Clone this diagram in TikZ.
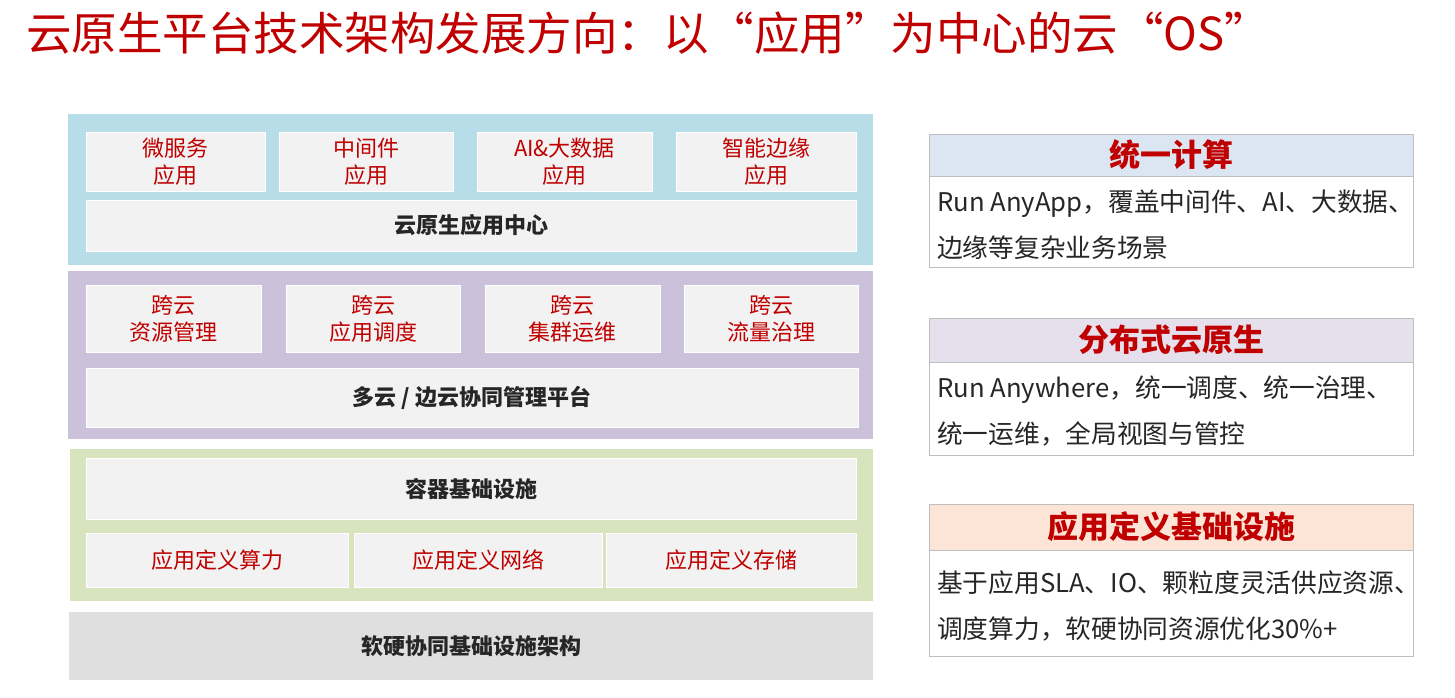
\documentclass[tikz,border=0pt]{standalone}
\usepackage{fontspec}
\setmainfont{Noto Sans CJK SC}
\usepackage{xcolor}
\definecolor{cred}{HTML}{C00000}
\definecolor{lblue}{HTML}{B7DDE8}
\definecolor{lpurple}{HTML}{CCC1DA}
\definecolor{lgreen}{HTML}{D7E4BD}
\definecolor{lgray}{HTML}{DFDFDF}
\definecolor{inner}{HTML}{F2F2F2}
\definecolor{hblue}{HTML}{DCE6F2}
\definecolor{hpurple}{HTML}{E5E0EC}
\definecolor{hpeach}{HTML}{FCE4D6}
\definecolor{pborder}{HTML}{BFBFBF}
\definecolor{txt}{HTML}{262626}
\tikzset{
  layer/.style={rectangle, inner sep=0pt, draw=none},
  ibox/.style={rectangle, inner sep=0pt, fill=inner, draw=white, line width=0.8pt, align=center},
  redtext/.style={text=cred, font=\fontsize{22}{27}\selectfont},
  boldtext/.style={text=txt, font=\fontsize{22}{27}\selectfont\bfseries},
  phead/.style={rectangle, inner sep=0pt, draw=pborder, line width=1pt, text=cred, font=\fontsize{31}{36}\selectfont\bfseries},
  pbody/.style={rectangle, inner sep=0pt, draw=pborder, line width=1pt, fill=white},
  ptext/.style={anchor=west, inner sep=0pt, align=left, text=txt, font=\fontsize{25.7}{46}\selectfont},
}
\begin{document}
\begin{tikzpicture}[x=1pt,y=-1pt]
\useasboundingbox (0,0) rectangle (1455,698);
% title
\node[anchor=west, inner sep=0pt, text=cred, font=\fontsize{45.5}{50}\selectfont] (title) at (26,33) {云原生平台技术架构发展方向：以“应用”为中心的云“OS”};

% layer 1
\node[layer, fill=lblue, minimum width=805pt, minimum height=151pt] (L1) at (470.5,189.5) {};
\node[ibox, redtext, minimum width=179pt, minimum height=59pt] (b11) at (175.5,161.5) {微服务\\应用};
\node[ibox, redtext, minimum width=174pt, minimum height=59pt] (b12) at (366,161.5) {中间件\\应用};
\node[ibox, redtext, minimum width=175pt, minimum height=59pt] (b13) at (564.5,161.5) {AI\&大数据\\应用};
\node[ibox, redtext, minimum width=180pt, minimum height=59pt] (b14) at (766,161.5) {智能边缘\\应用};
\node[ibox, boldtext, minimum width=770pt, minimum height=51pt] (c1) at (471,225.5) {云原生应用中心};

% layer 2
\node[layer, fill=lpurple, minimum width=805pt, minimum height=168pt] (L2) at (470.5,355) {};
\node[ibox, redtext, minimum width=175pt, minimum height=67pt] (b21) at (173.5,318.5) {跨云\\资源管理};
\node[ibox, redtext, minimum width=174pt, minimum height=67pt] (b22) at (373,318.5) {跨云\\应用调度};
\node[ibox, redtext, minimum width=175pt, minimum height=67pt] (b23) at (572.5,318.5) {跨云\\集群运维};
\node[ibox, redtext, minimum width=174pt, minimum height=67pt] (b24) at (771,318.5) {跨云\\流量治理};
\node[ibox, boldtext, minimum width=772pt, minimum height=59pt] (c2) at (472,397.5) {多云 / 边云协同管理平台};

% layer 3
\node[layer, fill=lgreen, minimum width=803pt, minimum height=152pt] (L3) at (471.5,525) {};
\node[ibox, boldtext, minimum width=770pt, minimum height=61pt] (c3) at (471,488.5) {容器基础设施};
\node[ibox, redtext, minimum width=262pt, minimum height=54pt] (b31) at (217,560) {应用定义算力};
\node[ibox, redtext, minimum width=248pt, minimum height=54pt] (b32) at (478,560) {应用定义网络};
\node[ibox, redtext, minimum width=250pt, minimum height=54pt] (b33) at (731,560) {应用定义存储};

% layer 4
\node[layer, fill=lgray, boldtext, minimum width=804pt, minimum height=68pt] (L4) at (471,646) {软硬协同基础设施架构};

% right panels
\node[pbody, minimum width=484pt, minimum height=91pt] (p1b) at (1171,221.5) {};
\node[phead, fill=hblue, minimum width=484pt, minimum height=42pt] (p1h) at (1171,155) {统一计算};
\node[ptext] (p1t) at (937,225) {Run AnyApp，覆盖中间件、AI、大数据、\\边缘等复杂业务场景};

\node[pbody, minimum width=484pt, minimum height=93pt] (p2b) at (1171,408.5) {};
\node[phead, fill=hpurple, minimum width=484pt, minimum height=44pt] (p2h) at (1171,340) {分布式云原生};
\node[ptext] (p2t) at (937,411.5) {Run Anywhere，统一调度、统一治理、\\统一运维，全局视图与管控};

\node[pbody, minimum width=484pt, minimum height=106pt] (p3b) at (1171,603) {};
\node[phead, fill=hpeach, minimum width=484pt, minimum height=46pt] (p3h) at (1171,527) {应用定义基础设施};
\node[ptext] (p3t) at (937,606) {基于应用SLA、IO、颗粒度灵活供应资源、\\调度算力，软硬协同资源优化30\%+};
\end{tikzpicture}
\end{document}
